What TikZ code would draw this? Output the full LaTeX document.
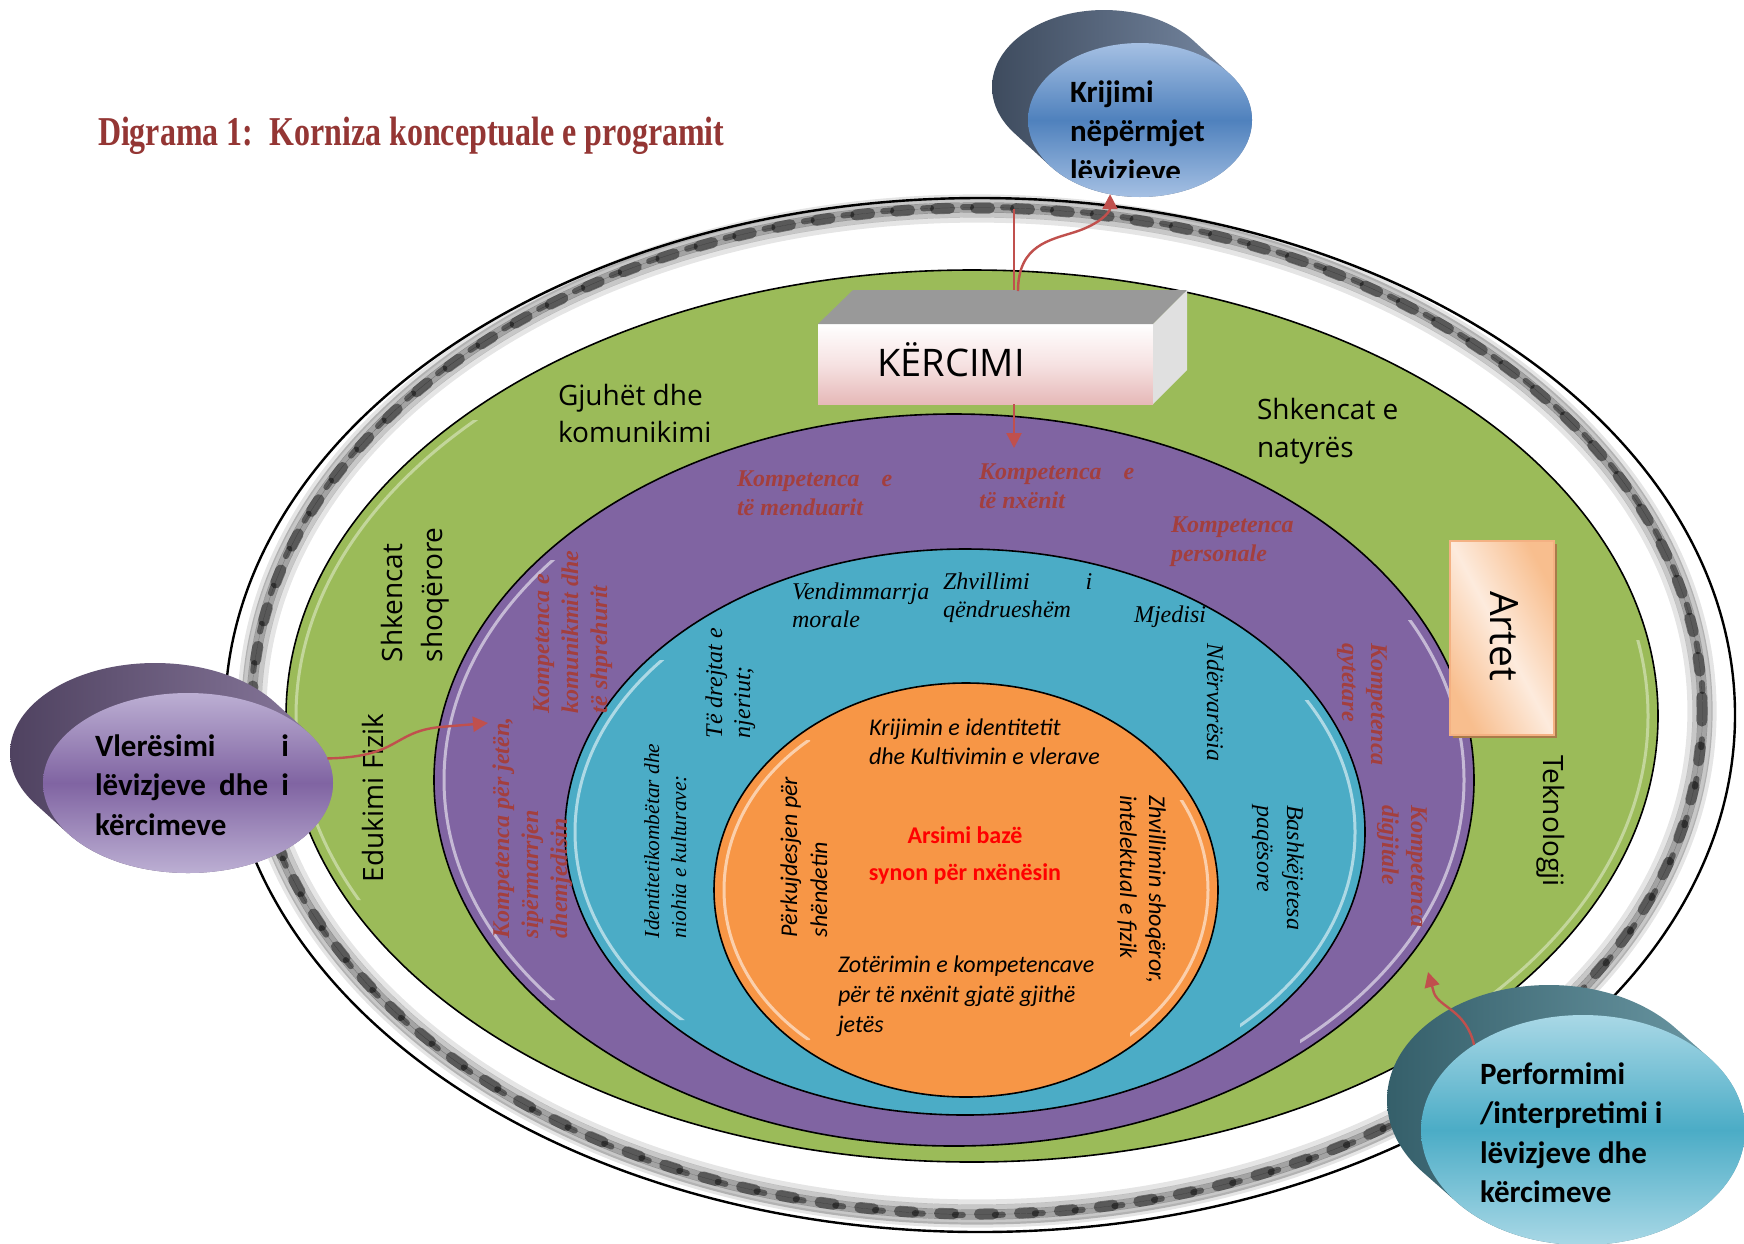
\documentclass[tikz,border=0pt]{standalone}
\usepackage{fontspec}
\usepackage{graphicx}
\setmainfont{Liberation Serif}
\newfontfamily\osans{Open Sans}
\newfontfamily\carl{Carlito}
\usetikzlibrary{arrows.meta,shapes.geometric}
\definecolor{grn}{HTML}{9BBB59}
\definecolor{prp}{HTML}{8064A2}
\definecolor{blu}{HTML}{4BACC6}
\definecolor{org}{HTML}{F79646}
\definecolor{ttl}{HTML}{943634}
\definecolor{cmp}{HTML}{A33F3E}
\definecolor{arr}{HTML}{C0504D}
\definecolor{krS1}{HTML}{3E4B5E}
\definecolor{krS2}{HTML}{7A8CA6}
\definecolor{krF1}{HTML}{A5C0E3}
\definecolor{krF2}{HTML}{4F81BD}
\definecolor{vlS1}{HTML}{4F4260}
\definecolor{vlS2}{HTML}{8A7A9E}
\definecolor{vlF1}{HTML}{BCAFD3}
\definecolor{vlF2}{HTML}{8064A2}
\definecolor{pfS1}{HTML}{355F6A}
\definecolor{pfS2}{HTML}{6F9CA8}
\definecolor{pfF1}{HTML}{A9D8E6}
\definecolor{pfF2}{HTML}{4BACC6}
\definecolor{kTop}{HTML}{999999}
\definecolor{kSide}{HTML}{E0E0E0}
\definecolor{kBot}{HTML}{E6B9B8}
\definecolor{kMid}{HTML}{F6E2E2}
\definecolor{artD}{HTML}{F8BE8E}
\definecolor{artL}{HTML}{FDEBDD}
\definecolor{artB}{HTML}{F4B183}
\definecolor{artS}{HTML}{A87B4A}
\newcommand{\lns}[2][l]{\begin{tabular}[t]{@{}#1@{}}#2\end{tabular}}
\newcommand{\cylside}[8]{%
  \path[left color=#7, right color=#8]
    \foreach \k in {0,...,24}{ ({#1+#5*(1-\k/24)},{#2+#6*(1-\k/24)}) ellipse [x radius=#3, y radius=#4] };
  }
\begin{document}
\begin{tikzpicture}[x=0.5pt, y=-0.5pt,
  lab/.style={inner sep=0pt, outer sep=0pt},
  sanslab/.style={lab, font={\osans\fontsize{14}{18.5}\selectfont}},
  boldlab/.style={lab, font={\carl\bfseries\fontsize{15.5}{19.75}\selectfont}},
  txtcomp/.style={lab, text=cmp, font={\bfseries\itshape\fontsize{12}{14.5}\selectfont}},
  txtring/.style={lab, font={\itshape\fontsize{12}{14}\selectfont}},
  txtcore/.style={lab, font={\carl\itshape\fontsize{12}{14.5}\selectfont}},
  arrline/.style={draw=arr, line width=1.2pt},
  arrtip/.style={-{Triangle[length=7.5pt, width=7.5pt]}},
  hilite/.style={draw=white, opacity=0.55, line width=1.5pt}
]
\useasboundingbox (0,0) rectangle (1744,1243);
\fill[white] (0,0) rectangle (1744,1243);
\clip (0,0) rectangle (1744,1243);

% title
\node[lab, anchor=base west, text=ttl, font={\bfseries\fontsize{20.5}{24}\selectfont}] (title) at (98,145)
  {\scalebox{0.78}[1]{Digrama 1:\ \ Korniza konceptuale e programit}};

% outer rings
\path[fill=white, draw=black, line width=1.2pt] (980,715) ellipse [x radius=377.5pt, y radius=258.5pt];
\foreach \rx/\ry/\op in {356.5/245.5/0.10, 359/248/0.22, 361.5/250.5/0.36, 364/253/0.36, 366.5/255.5/0.22, 368.5/257/0.10}
  \path[draw=black, line width=2.6pt, opacity=\op] (977,711) ellipse [x radius=\rx pt, y radius=\ry pt];
\path[draw=black, line width=5.5pt, opacity=0.45, line cap=round, dash pattern=on 7pt off 13pt] (977,711) ellipse [x radius=362.5pt, y radius=251.5pt];
\path[draw=black, line width=3pt, opacity=0.45, line cap=round, dash pattern=on 4pt off 16pt, dash phase=10pt] (977,711) ellipse [x radius=363pt, y radius=252pt];

% main ellipses
\path[fill=grn, draw=black, line width=0.8pt] (972,716) ellipse [x radius=343pt, y radius=223pt];
\path[fill=prp, draw=black, line width=0.8pt] (954,780) ellipse [x radius=260pt, y radius=183pt];
\path[fill=blu, draw=black, line width=0.8pt] (965,832) ellipse [x radius=200pt, y radius=141.5pt];
\path[fill=org, draw=black, line width=0.8pt] (966,890) ellipse [x radius=126pt, y radius=103.5pt];

% bevel highlights
\begin{scope}
  \clip (0,420) rectangle (520,900) (1440,640) rectangle (1744,1243);
  \draw[hilite, opacity=0.4] (972,716) ellipse [x radius=338pt, y radius=218pt];
\end{scope}
\begin{scope}
  \clip (0,560) rectangle (640,1000) (1300,620) rectangle (1744,1060);
  \draw[hilite] (954,780) ellipse [x radius=255pt, y radius=178pt];
\end{scope}
\begin{scope}
  \clip (0,660) rectangle (700,1020) (1240,700) rectangle (1744,1040);
  \draw[hilite] (965,832) ellipse [x radius=195pt, y radius=136.5pt];
\end{scope}
\begin{scope}
  \clip (0,740) rectangle (810,1040) (1130,800) rectangle (1744,1040);
  \draw[hilite] (966,890) ellipse [x radius=121pt, y radius=98.5pt];
\end{scope}

% subject labels (green ring)
\node[sanslab, anchor=base west] (gjuhet) at (558,405) {\lns{Gjuhët dhe\\komunikimi}};
\node[sanslab, anchor=base west, font={\osans\fontsize{14}{19}\selectfont}] (natyres) at (1257,419) {\lns{Shkencat e\\natyrës}};
\node[sanslab, anchor=base west, rotate=90, font={\osans\fontsize{14}{20}\selectfont}] (shoq) at (402,662) {\lns{Shkencat\\shoqërore}};
\node[sanslab, anchor=base west, rotate=90] (eduk) at (383,882) {Edukimi Fizik};
\node[sanslab, anchor=base west, rotate=-90] (tekno) at (1543,755) {Teknologji};

% competences (purple ring)
\node[txtcomp, anchor=base west] (cmpA) at (737,486) {\lns{Kompetenca\hspace{11pt}e\\të menduarit}};
\node[txtcomp, anchor=base west] (cmpB) at (979,479) {\lns{Kompetenca\hspace{11pt}e\\të nxënit}};
\node[txtcomp, anchor=base west] (cmpC) at (1171,532) {\lns{Kompetenca\\personale}};
\node[txtcomp, anchor=base west, rotate=90] (cmpD) at (549,713) {\lns{Kompetenca e\\komunikmit dhe\\të shprehurit}};
\node[txtcomp, anchor=base west, rotate=90] (cmpE) at (509,938) {\lns{Kompetenca për jetën,\\sipërmarrjen\\dhemjedisin}};
\node[txtcomp, anchor=base west, rotate=-90] (cmpF) at (1371,643) {\lns{Kompetenca\\qytetare}};
\node[txtcomp, anchor=base west, rotate=-90] (cmpG) at (1411,805) {\lns{Kompetenca\\digjitale}};

% values (blue ring)
\node[txtring, anchor=base west] (rA) at (792,599) {\lns{Vendimmarrja\\morale}};
\node[txtring, anchor=base west] (rB) at (943,589) {\lns{Zhvillimi\hspace{28pt}i\\qëndrueshëm}};
\node[txtring, anchor=base west] (rC) at (1134,622) {Mjedisi};
\node[txtring, anchor=base west, rotate=-90] (rD) at (1207,643) {Ndërvarësia};
\node[txtring, anchor=base west, rotate=90] (rE) at (722,738) {\lns{Të drejtat e\\njeriut;}};
\node[txtring, anchor=base west, rotate=90, font={\itshape\fontsize{10.7}{13.5}\selectfont}] (rF) at (659,938) {\lns{Identitetikombëtar dhe\\niohia e kulturave:}};
\node[txtring, anchor=base west, rotate=-90, font={\itshape\fontsize{12}{15}\selectfont}] (rG) at (1287,805) {\lns{Bashkëjetesa\\paqësore}};

% core (orange)
\node[txtcore, anchor=base west] (cA) at (869,735) {\lns{Krijimin e identitetit\\dhe Kultivimin e vlerave}};
\node[txtcore, anchor=base west, font={\carl\itshape\fontsize{12}{15}\selectfont}] (cB) at (838,972) {\lns{Zotërimin e kompetencave\\për të nxënit gjatë gjithë\\jetës}};
\node[txtcore, anchor=base west, rotate=90, font={\carl\itshape\fontsize{12}{15}\selectfont}] (cC) at (797,937) {\lns{Përkujdesjen për\\shëndetin}};
\node[txtcore, anchor=base west, rotate=-90] (cD) at (1149,795) {\lns{Zhvillimin shoqëror,\\intelektual e fizik}};
\node[lab, anchor=base, text=red, font={\carl\bfseries\fontsize{12}{18.5}\selectfont}] (cE) at (965,843) {\lns[c]{Arsimi bazë\\synon për nxënësin}};

% connector coordinates
\coordinate (ringtop) at (1014,209);
\coordinate (topface) at (1014,291);
\coordinate (cstart) at (1018,291);
\coordinate (cmpTop) at (1014,448);
\coordinate (pLeft) at (488,723);
\coordinate (pBR) at (1428,972);

\draw[arrline] (ringtop) -- (topface);

% KERCIMI box
\node[lab, minimum width=167.5pt, minimum height=40pt, top color=white, bottom color=kBot, middle color=kMid] (kerc) at (985.5,364) {};
\fill[kTop] (kerc.north west) -- ++(35,-34) -- ++(334,0) -- (kerc.north east) -- cycle;
\fill[kSide] (kerc.north east) -- ++(34,-34) -- ++(0,80) -- (kerc.south east) -- cycle;
\node[lab, anchor=base, font={\osans\fontsize{19}{22}\selectfont}] (kercT) at (951,376) {KËRCIMI};
\draw[arrline, arrtip] (kerc.south -| ringtop) -- (cmpTop);

% Artet box
\fill[artS] (1453,544) rectangle (1557,738);
\node[lab, draw=artB, line width=0.8pt, minimum width=52pt, minimum height=97pt, shading=axis, top color=artD, bottom color=artD, middle color=artL, shading angle=-62] (artet) at (1502,638) {};
\node[lab, anchor=base, rotate=-90, font={\osans\fontsize{19.5}{22}\selectfont}] (artT) at (1490,636) {Artet};

% 3D ellipse: Krijimi
\cylside{1140}{120}{56pt}{38.5pt}{-36}{-33}{krS1}{krS2}
\node[ellipse, lab, minimum width=112pt, minimum height=77pt, top color=krF1, bottom color=krF1, middle color=krF2] (krij) at (1140,120) {};
\begin{scope}
  \clip (1000,0) rectangle (1300,177);
  \node[boldlab, anchor=base west] (krijT) at (1070,102) {\lns{Krijimi\\nëpërmjet\\lëvizjeve}};
\end{scope}

% 3D ellipse: Vleresimi
\cylside{188}{783}{72.5pt}{45pt}{-33}{-30}{vlS1}{vlS2}
\node[ellipse, lab, minimum width=145pt, minimum height=90pt, top color=vlF1, bottom color=vlF1, middle color=vlF2] (vler) at (188,783) {};
\node[boldlab, anchor=base west] (vlerT) at (95,756) {\lns{\makebox[97pt][l]{Vlerësimi\hfill i}\\\makebox[97pt][s]{lëvizjeve dhe i}\\kërcimeve}};

% 3D ellipse: Performimi
\cylside{1583}{1130}{81pt}{57.5pt}{-34}{-30}{pfS1}{pfS2}
\node[ellipse, lab, minimum width=162pt, minimum height=115pt, top color=pfF1, bottom color=pfF1, middle color=pfF2] (perf) at (1583,1130) {};
\node[boldlab, anchor=base west] (perfT) at (1480,1084) {\lns{Performimi\\/interpretimi i\\lëvizjeve dhe\\kërcimeve}};

% curved connectors
\draw[arrline, arrtip] (cstart) .. controls (1018,245) and (1050,240) .. (1075,232) .. controls (1100,224) and (1110,212) .. (krij.-112);
\draw[arrline, arrtip] (vler.10) .. controls (400,757) and (392,732) .. (440,727) -- (pLeft);
\draw[arrline, arrtip] (perf.142) .. controls (1466,1010) and (1440,1008) .. (1434,993) -- (pBR);
\end{tikzpicture}
\end{document}
